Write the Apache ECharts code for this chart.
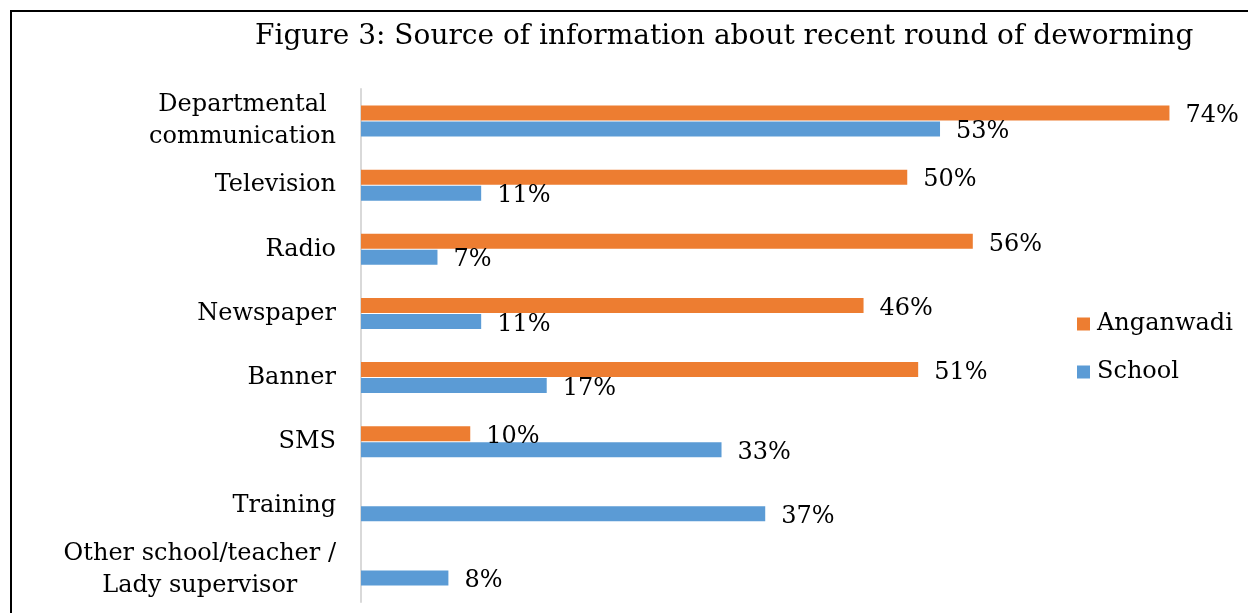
<!DOCTYPE html>
<html><head><meta charset="utf-8">
<script src="https://cdn.jsdelivr.net/npm/echarts@6/dist/echarts.min.js"></script>
<style>html,body{margin:0;padding:0;background:#fff;}#c{width:1248px;height:613px;}</style>
</head><body><div id="c"></div>
<script>
var categories = ['Departmental\ncommunication','Television','Radio','Newspaper','Banner','SMS','Training','Other school/teacher /\nLady supervisor'];
var anganwadi = [74, 50, 56, 46, 51, 10, null, null];
var school = [53, 11, 7, 11, 17, 33, 37, 8];
var seriesNames = ['Anganwadi','School'];
var FONT = 'DejaVu Serif';
var chart = echarts.init(document.getElementById('c'));
var lbl = {show:true, position:'right', distance:16, offset:[0,3], fontFamily:FONT, fontSize:24, color:'#000', formatter:function(p){return p.value==null?'':p.value+'%';}};
chart.setOption({
  animation:false,
  title:{text:'Figure 3: Source of information about recent round of deworming', left:250, top:18,
    textStyle:{fontFamily:FONT, fontSize:28, fontWeight:'normal', color:'#000'}},
  graphic:[{type:'rect', shape:{x:11,y:11,width:1400,height:800}, style:{fill:'none', stroke:'#000', lineWidth:2}, silent:true}],
  legend:{orient:'vertical', left:1077, top:312, padding:0, itemWidth:13, itemHeight:13, itemGap:24, icon:'rect',
    textStyle:{fontFamily:FONT, fontSize:24, color:'#000', padding:[0,0,0,2]}, data:seriesNames},
  grid:{left:361, right:13, top:89, bottom:11},
  xAxis:{type:'value', min:0, max:80, show:false},
  yAxis:{type:'category', inverse:true, data:categories,
    axisLine:{show:true, lineStyle:{color:'#D9D9D9', width:2}}, axisTick:{show:false},
    axisLabel:{margin:25, fontFamily:FONT, fontSize:24, color:'#000', lineHeight:32,
      formatter:function(v){return v.split('\n').map(function(s){return '{c|'+s+'}';}).join('\n');},
      rich:{c:{align:'center', fontFamily:FONT, fontSize:24, color:'#000', lineHeight:32}}}},
  series:[
    {name:seriesNames[0], type:'bar', data:anganwadi, barWidth:15, barGap:'6%', itemStyle:{color:'#ED7D31'}, label:lbl},
    {name:seriesNames[1], type:'bar', data:school, barWidth:15, barGap:'6%', itemStyle:{color:'#5B9BD5'}, label:lbl}
  ]
});
</script></body></html>
